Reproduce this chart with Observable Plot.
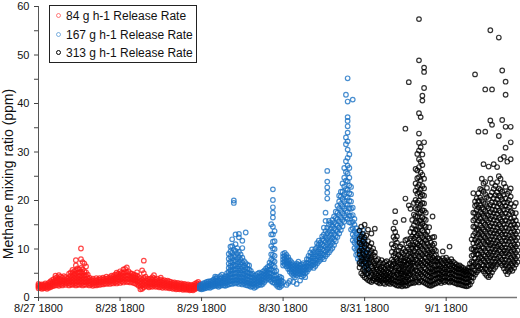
<!DOCTYPE html>
<html>
<head>
<meta charset="utf-8">
<script src="https://cdn.jsdelivr.net/npm/d3@7"></script>
<script src="https://cdn.jsdelivr.net/npm/@observablehq/plot@0.6"></script>
<style>
  body { margin: 0; background: #fff; font-family: "Liberation Sans", Arial, sans-serif; }
  #wrap { position: relative; width: 520px; height: 318px; }
  #legend { position: absolute; left: 49px; top: 5px; width: 146px; height: 56px; border: 1px solid #222; background: #fff; font-size: 12px; color: #111; }
  #legend div { position: absolute; left: 6px; white-space: nowrap; }
  #legend span.m { display: inline-block; width: 3px; height: 3px; border-radius: 50%; border: 1px solid; margin-right: 5px; vertical-align: middle; position: relative; top: -1px; }
  #ytitle { position: absolute; left: 8px; top: 174px; transform: translate(-50%, -50%) rotate(-90deg); font-size: 14px; white-space: nowrap; color: #111; }
</style>
</head>
<body>
<div id="wrap">
  <div id="chart"></div>
  <div id="ytitle">Methane mixing ratio (ppm)</div>
  <div id="legend"></div>
</div>
<script>
// hours since 8/27 18:00 -> methane values (ppm)
const seriesNames = ["84 g h-1 Release Rate", "167 g h-1 Release Rate", "313 g h-1 Release Rate"];
const seriesColors = ["#ff1a1a", "#1a72c4", "#000000"];
const xTickHours = [0, 24, 48, 72, 96, 120];
const xTickLabels = ["8/27 1800", "8/28 1800", "8/29 1800", "8/30 1800", "8/31 1800", "9/1 1800"];
const yTicks = [0, 5, 10, 15, 20, 25, 30, 35, 40, 45, 50, 55, 60];

const red = [
[0,[1.9,2.2,2.5,2.8]],[0.5,[2.0,2.3,2.6]],[1,[1.8,2.1,2.4,2.7]],[1.5,[1.9,2.2,2.6]],[2,[2.0,2.3,2.5,2.9]],[2.5,[1.8,2.1,2.4,2.7]],
[3,[2.0,2.3,2.6,3.0]],[3.5,[2.1,2.5,2.9,3.3]],[4,[2.3,2.7,3.1,3.6]],[4.5,[2.4,2.8,3.3,3.8]],[5,[2.5,3.0,3.5,4.0,4.5]],
[5.5,[2.6,3.1,3.6,4.2]],[6,[2.4,2.9,3.4,3.9,4.6]],[6.5,[2.7,3.2,3.7,4.3]],[7,[2.5,3.0,3.5,4.1]],[7.5,[2.8,3.3,3.8,4.4]],
[8,[2.6,3.1,3.6,4.2]],[8.5,[2.9,3.4,3.9]],[9,[2.5,3.0,3.6,4.2,4.9]],[9.5,[2.7,3.3,3.9,4.5,5.2]],[10,[2.6,3.1,3.7,4.3,5.0,5.7]],
[10.5,[2.8,3.4,4.0,4.7,5.4]],[11,[2.5,3.0,3.6,4.2,4.9,5.6,6.6,7.7]],[11.5,[2.7,3.3,3.9,4.5,5.2,6.0]],[12,[2.6,3.2,3.8,4.4,5.1,5.8]],
[12.5,[2.8,3.4,4.0,4.6,5.3,6.1,7.9,10.1]],[13,[2.5,3.1,3.7,4.3,5.0,5.8,7.3]],[13.5,[2.7,3.3,3.9,4.6,5.4,7.0]],
[14,[2.6,3.2,3.8,4.5,5.2,6.4]],[14.5,[2.8,3.4,4.0,4.7]],[15,[2.5,3.0,3.5,4.1]],[15.5,[2.7,3.2,3.7]],[16,[2.4,2.9,3.4,3.9]],
[16.5,[2.6,3.1,3.6]],[17,[2.5,3.0,3.5,4.0]],[17.5,[2.7,3.2,3.7]],[18,[2.6,3.1,3.6,4.0]],[18.5,[2.8,3.3,3.8]],[19,[2.7,3.2,3.7,4.1]],
[19.5,[2.9,3.4,3.9]],[20,[2.8,3.3,3.8,4.3]],[20.5,[3.0,3.5,4.0]],[21,[2.8,3.3,3.8,4.2]],[21.5,[3.0,3.5,4.0,4.5]],[22,[2.9,3.4,3.9,4.4]],
[22.5,[3.1,3.6,4.1,4.7]],[23,[2.9,3.4,4.0,4.6,5.1]],[23.5,[3.2,3.7,4.3,4.9]],[24,[3.0,3.6,4.2,4.8,5.4]],[24.5,[3.3,3.9,4.5,5.1]],
[25,[3.1,3.7,4.3,5.0,5.8]],[25.5,[3.4,4.0,4.6,5.3,5.9]],[26,[3.2,3.8,4.5,5.2,6.2]],[26.5,[3.3,3.9,4.6,5.4]],[27,[3.1,3.7,4.3,5.0]],
[27.5,[3.2,3.8,4.4,4.9]],[28,[3.0,3.6,4.2,4.7]],[28.5,[2.9,3.5,4.1,4.6]],[29,[2.7,3.3,3.9,4.5,5.2]],[29.5,[2.4,3.0,3.6,4.2]],
[30,[1.7,2.2,2.8,3.4,4.0]],[30.5,[1.8,2.4,3.0,3.7,5.6]],[31,[2.1,2.7,3.3,4.0,5.0,7.6]],[31.5,[2.4,3.0,3.6,4.3]],[32,[2.3,2.8,3.4,3.9]],
[32.5,[2.1,2.6,3.2,3.8]],[33,[2.3,2.8,3.3,3.9]],[33.5,[2.2,2.7,3.2,3.7,4.2]],[34,[2.4,2.9,3.4,4.0,4.6]],[34.5,[2.2,2.7,3.2,3.7]],
[35,[2.3,2.8,3.3,3.9]],[35.5,[2.1,2.6,3.1,3.6]],[36,[2.2,2.7,3.2,3.7,4.1]],[36.5,[2.0,2.5,3.0,3.5]],[37,[2.2,2.6,3.1,3.6]],
[37.5,[2.0,2.4,2.9,3.4]],[38,[2.1,2.5,3.0,3.5]],[38.5,[1.9,2.3,2.8,3.3]],[39,[2.0,2.4,2.8,3.2]],[39.5,[1.8,2.2,2.6,3.0]],
[40,[1.9,2.3,2.7,3.1]],[40.5,[1.7,2.1,2.5,2.9]],[41,[1.8,2.2,2.6,3.0]],[41.5,[1.7,2.0,2.4,2.8]],[42,[1.8,2.1,2.5,2.9]],
[42.5,[1.6,1.9,2.3,2.7]],[43,[1.7,2.0,2.4,2.8]],[43.5,[1.6,1.9,2.2,2.6]],[44,[1.7,2.0,2.3,2.7]],[44.5,[1.5,1.8,2.1,2.5]],
[45,[1.6,1.9,2.2,2.6]],[45.5,[1.5,1.8,2.2,2.5]],[46,[1.7,2.0,2.4,2.8]],[46.5,[1.9,2.2,2.6,3.0]],[47,[2.0,2.4,2.8,3.2]],[47.5,[1.9,2.3,2.7]]
];

const blue = [
[47.5,[1.8,2.1,2.5]],[48,[1.7,2.0,2.3,2.7]],[48.5,[1.8,2.1,2.5,2.9]],[49,[1.9,2.2,2.6,3.0]],[49.5,[2.0,2.4,2.8,3.2]],
[50,[2.1,2.5,2.9,3.3]],[50.5,[2.0,2.4,2.8,3.3]],[51,[2.2,2.6,3.0,3.4]],[51.5,[2.3,2.7,3.2,3.7]],[52,[2.5,2.9,3.4,3.9,4.3]],
[52.5,[2.4,2.8,3.3,3.8,4.2]],[53,[2.2,2.6,3.0,3.5]],[53.5,[2.4,2.9,3.4,3.9,4.4]],[54,[2.6,3.1,3.6,4.1,4.7]],[54.5,[2.5,3.0,3.5,4.0]],
[55,[2.4,2.9,3.4,3.9,4.4]],[55.5,[2.6,3.1,3.7,4.3,5.0]],[56,[2.7,3.3,3.9,4.6,5.3,6.1,7.0,8.0,9.0]],
[56.5,[2.9,3.5,4.2,4.9,5.7,6.5,7.4,8.4,9.5,10.5]],[57,[2.8,3.4,4.1,4.8,5.5,6.3,7.2,8.2,9.3,10.6,12.0]],
[57.5,[3.0,3.6,4.3,5.0,5.8,6.7,7.6,8.6,9.8,19.5,20.0]],[58,[2.9,3.5,4.2,4.9,5.7,6.5,7.4,8.4,9.6,11.0,13.0]],
[58.5,[3.1,3.7,4.4,5.2,6.0,6.9,7.9,9.0,10.2]],[59,[2.8,3.4,4.1,4.8,5.6,6.4,7.3,8.3,9.4,12.4,13.1]],
[59.5,[3.0,3.6,4.3,5.1,5.9,6.8,7.8,8.9]],[60,[2.7,3.3,4.0,4.7,5.5,6.3,7.2,8.2,10.2,11.7]],[60.5,[2.9,3.5,4.2,4.9,5.7,6.6,7.5]],
[61,[2.6,3.2,3.9,4.6,5.4,6.2,7.1,13.4]],[61.5,[2.5,3.0,3.7,4.4,5.1,5.9,6.7]],[62,[2.4,3.0,3.6,4.3,5.0,5.8,6.6]],
[62.5,[2.2,2.8,3.4,4.1,4.8,5.5]],[63,[2.3,2.9,3.5,4.2,4.9]],[63.5,[2.0,2.6,3.2,3.8,4.5]],[64,[2.2,2.8,3.4,4.0,4.6]],
[64.5,[2.5,3.0,3.6,4.2,4.9]],[65,[2.7,3.2,3.8,4.4,5.1]],[65.5,[2.6,3.1,3.7,4.3,4.9]],[66,[2.8,3.4,4.0,4.6,5.3]],
[66.5,[3.2,3.8,4.4,5.0,5.6]],[67,[3.6,4.2,4.8,5.4,6.0]],[67.5,[3.9,4.5,5.1,5.7,6.3]],[68,[3.7,4.3,5.0,5.7,6.5,7.2]],
[68.5,[3.4,4.1,4.9,5.8,6.8,7.8,8.9,10.6,13.0,15.1]],
[69,[3.1,3.8,4.6,5.5,6.5,7.6,8.8,10.1,11.5,13.0,14.6,16.5,17.5,18.6,20.1,22.3]],
[69.5,[3.0,3.6,4.4,5.3,6.3,7.4,8.6,10.0,11.6,13.7]],[70,[2.6,3.2,3.9,4.6,5.5]],[70.5,[2.2,2.7,3.3,3.9]],[71,[2.1,2.6,3.2,3.8,4.3]],
[71.5,[2.4,2.9,3.5,4.1]],[72,[3.2,6.6,7.2,7.8,8.4,9.0]],[72.5,[6.8,7.4,8.0,8.6,9.2]],[73,[2.6,6.4,7.0,7.6,8.2,8.8]],
[73.5,[3.0,5.9,6.5,7.1,7.7,8.3]],[74,[3.4,5.3,5.9,6.5,7.1,7.7]],[74.5,[4.9,5.5,6.1,6.7,7.3]],[75,[3.2,4.5,5.1,5.7,6.3,6.9]],
[75.5,[4.2,4.8,5.4,6.0,6.6]],[76,[2.8,4.6,5.2,5.8,6.4,7.0]],[76.5,[5.0,5.6,6.2,6.8,7.4]],[77,[3.5,4.8,5.4,6.0,6.6]],
[77.5,[4.3,4.9,5.5,6.1,6.8]],[78,[4.6,5.2,5.8,6.4,7.1]],[78.5,[4.2,5.0,5.6,6.2,6.9]],[79,[5.3,5.9,6.5,7.2,7.9]],
[79.5,[5.8,6.4,7.1,7.8,8.6]],[80,[6.2,6.9,7.6,8.4,9.3]],[80.5,[6.6,7.3,8.1,8.9,9.9]],[81,[6.1,6.8,7.6,8.4,9.4]],
[81.5,[6.5,7.2,8.0,8.9,10.0]],[82,[7.0,7.7,8.5,9.4,10.4,11.2]],[82.5,[7.4,8.2,9.0,9.9,10.9,11.7]],[83,[7.8,8.6,9.4,10.3,11.3]],
[83.5,[8.2,9.0,9.9,10.9,12.0,12.6]],[84,[7.9,8.8,9.7,10.7,11.8,13.0,14.4]],[84.5,[8.5,9.4,10.4,11.4,12.5,13.7,15.8,17.5]],
[85,[8.9,9.9,10.9,12.0,13.2,14.4,20.4,21.6,22.7,23.9,26.1]],[85.5,[9.3,10.3,11.4,12.5,13.7,15.0,15.8]],
[86,[9.8,10.8,11.9,13.0,14.2,15.4]],[86.5,[10.2,11.3,12.4,13.6,14.8,16.0]],[87,[10.8,11.9,13.0,14.2,15.4,16.7]],
[87.5,[11.6,12.7,13.9,15.1,16.4,17.7]],[88,[12.5,13.7,14.9,16.2,17.5,18.9]],[88.5,[13.2,14.4,15.7,17.0,18.4,19.8,21.0]],
[89,[13.9,15.2,16.5,17.9,19.3,20.8,21.8]],[89.5,[14.7,16.0,17.4,18.8,20.3,21.8,23.5]],
[90,[15.6,16.9,18.3,19.8,21.3,22.9,24.7,26.7]],[90.5,[16.5,17.9,19.3,20.8,22.4,24.1,25.9,28.1,31.6,33.0,41.8]],
[91,[16.2,17.6,19.1,20.6,22.2,23.9,25.6,27.2,28.8,30.5,32.2,34.0,35.3,36.4,37.2,40.4,45.2]],
[91.5,[15.5,16.9,18.4,19.9,21.5,23.1,24.7,26.7,29.5]],[92,[14.0,15.4,16.8,18.3,19.8,21.3,22.8]],
[92.5,[11.8,13.0,14.3,15.6,17.0,18.5,40.8]],[93,[10.2,11.3,12.5,13.7,15.0,16.2]],[93.5,[8.8,9.8,10.9,12.0,13.2,14.3]],
[94,[8.0,9.0,10.0,11.1,12.3,13.5]],[94.5,[7.4,8.4,9.4,10.5,11.6,12.7,13.7]],[95,[7.8,8.8,9.8,10.8,11.8,12.8]],
[95.5,[7.0,8.0,9.1,10.2,11.3,12.5,13.9]],[96,[6.4,7.4,8.5,9.6,10.7,11.8]],[96.5,[5.7,6.7,7.8,8.9,10.0]],[97,[5.0,6.0,7.0,8.1,9.2]]
];

const black = [
[94.5,[6.2,7.1,8.9,9.6,11.3,12.1,13.8]],[95,[5.0,6.8,7.5,8.3,10.1,11.0,12.6,14.6]],[95.5,[4.6,5.7,7.9,9.0,9.7,11.6,13.1]],
[96,[4.2,5.3,6.1,7.4,8.6,10.4,11.2,12.4,15.0]],[96.5,[3.9,4.8,6.4,7.0,8.1,9.3,10.9,12.8]],[97,[3.6,5.0,5.8,6.7,8.5,9.9,11.6,14.0]],
[97.5,[3.4,4.3,5.4,7.2,7.9,9.1,10.5]],[98,[3.2,4.6,5.1,6.4,7.7,8.3,9.6,11.2,13.2]],[98.5,[3.5,4.0,5.6,6.1,7.3,8.8,10.1]],
[99,[3.8,4.4,5.3,6.6,7.0,8.5,9.3,14.2]],[99.5,[3.3,4.1,4.9,5.8,6.3,7.6]],[100,[3.1,3.7,4.6,5.4,6.7,7.9]],[100.5,[2.9,3.5,4.3,5.1,6.0,7.2]],
[101,[3.4,4.0,4.8,5.7,6.4,7.7]],[101.5,[3.0,3.8,4.5,5.3,6.2,7.0]],[102,[2.8,3.6,4.4,5.0,5.9,7.3]],[102.5,[3.2,3.9,4.7,5.5,6.6,7.5]],
[103,[3.0,3.7,4.2,5.2,6.1,6.9]],[103.5,[2.8,3.4,4.4,4.9,5.8,7.1]],[104,[3.1,3.9,4.7,5.9,6.5,7.8,9.4,11.0]],
[104.5,[2.9,3.6,4.5,5.3,6.8,7.4,8.6,10.3,12.5,14.2]],[105,[2.7,3.4,4.2,5.6,6.2,7.0,8.3,9.1,10.7,12.0,13.5,15.5,17.8]],
[105.5,[2.5,3.3,4.7,5.1,6.4,7.5,8.0,9.6,11.3,12.6]],[106,[2.4,3.1,3.9,4.6,5.5,6.0,7.2,8.8,9.6]],
[106.5,[2.6,3.5,4.1,5.0,5.8,6.9,7.7,8.4,10.5]],[107,[2.3,3.0,3.8,4.9,5.4,6.4,7.0,8.2,9.3,11.0]],
[107.5,[2.6,3.4,4.3,4.8,5.9,6.7,7.6,8.9,10.0,16.0]],[108,[2.4,3.2,3.7,4.6,5.3,6.3,7.4,8.1,9.5,11.8,20.4,34.8]],
[108.5,[2.5,3.3,4.2,5.1,5.7,6.8,7.8,8.6,10.3,12.0]],[109,[2.8,3.6,4.5,5.0,6.1,7.0,7.6,9.0,9.9,11.2,19.0,44.4]],
[109.5,[2.9,3.9,4.8,5.6,6.6,7.3,8.4,9.4,10.8,12.2,13.5,18.3]],[110,[3.1,4.0,5.3,6.0,7.1,7.9,9.0,10.2,11.0,12.6,14.3,16.0]],
[110.5,[3.0,4.4,5.1,6.5,7.4,8.6,9.6,10.8,12.2,13.4,14.9,17.1,19.5]],
[111,[3.2,4.1,5.6,6.3,7.8,8.7,10.1,11.4,12.5,14.0,15.6,16.8,18.4,20.1,22.0,23.5,26.5]],
[111.5,[3.4,4.6,5.5,6.9,7.6,9.0,10.3,11.1,12.8,13.9,15.5,16.7,18.2,19.6,21.4,22.8,24.6,26.2,29.6]],
[112,[3.1,4.2,5.2,6.4,7.3,8.5,9.4,10.7,11.9,13.2,14.4,15.8,17.3,18.5,20.0,21.7,23.2,24.8,26.9,28.5,30.3,31.9,33.8,38.0,48.9,57.4]],
[112.5,[3.5,4.8,5.8,7.0,8.0,9.2,10.5,11.6,12.9,14.7,15.9,17.6,19.1,20.9,22.3,24.2,25.8,28.0,31.0,37.2]],
[113,[3.3,4.4,5.4,6.6,7.7,8.8,10.0,11.3,12.4,13.8,15.2,16.5,18.0,19.5,21.2,23.0,25.3,27.3,29.5,40.6,41.6]],
[113.5,[3.1,4.0,5.1,6.1,7.2,8.3,9.6,10.8,12.0,13.5,14.8,16.2,17.9,19.4,21.0,22.5,24.5,32.0,43.2,46.5,47.4]],
[114,[2.9,3.8,4.9,5.9,7.0,8.2,9.1,10.4,11.8,13.0,14.6,16.0,17.5]],[114.5,[2.7,3.6,4.6,5.5,6.7,7.5,8.8,9.8,11.1,12.5,13.6]],
[115,[2.5,3.4,4.4,5.2,6.3,7.2,8.4,9.3,10.6,12.2,14.5]],[115.5,[2.4,3.3,4.1,5.0,5.9,6.9,7.8,8.9,10.0,11.3]],
[116,[2.6,3.5,4.5,5.4,6.1,7.4,8.2,9.5,10.8,12.4,16.7]],[116.5,[2.8,3.7,4.7,5.7,6.6,7.7,8.6,9.9,11.1,12.5]],
[117,[2.9,3.9,4.6,5.8,6.5,7.6,8.8,9.6]],[117.5,[3.1,4.0,4.9,5.6,6.8,7.4,8.1]],[118,[3.3,4.2,5.0,5.9,6.7,7.9]],
[118.5,[3.0,3.8,4.7,5.5,6.4,7.6]],[119,[3.4,4.3,5.2,6.1,7.0,8.1,9.5]],[119.5,[3.2,4.1,4.9,5.8,6.6,7.7]],[120,[3.5,4.4,5.3,6.2,7.2,8.2]],
[120.5,[3.3,4.0,5.0,5.7,6.8,7.7]],[121,[3.1,3.9,4.8,5.6,6.5,7.4,10.5]],[121.5,[3.4,4.3,5.1,6.0,6.9,7.9]],[122,[3.2,4.0,4.9,5.7,6.6,7.4]],
[122.5,[3.0,3.8,4.6,5.5,6.3,7.1]],[123,[2.9,3.6,4.5,5.3,6.0,6.8]],[123.5,[2.7,3.5,4.3,5.1,5.8,6.5]],[124,[2.8,3.7,4.4,5.2,6.0,6.6]],
[124.5,[2.6,3.4,4.2,5.0,5.7,6.3]],[125,[2.5,3.3,4.0,4.8,5.5,6.1]],[125.5,[2.4,3.1,3.9,4.6,5.3,5.8]],[126,[2.3,3.0,3.8,4.5,5.1,5.6]],
[126.5,[2.4,3.2,4.0,4.8,5.5,6.1]],[127,[2.7,3.6,4.5,5.3,6.2,7.0]],[127.5,[3.3,4.2,5.1,6.3,7.4,8.6,10.0,12.0]],
[128,[4.1,5.0,6.4,7.3,8.8,9.9,11.2,12.8,14.6,15.9,17.5,21.5]],
[128.5,[4.7,5.6,6.9,8.1,9.5,10.4,11.9,13.3,14.5,16.2,17.4,18.9,19.8,46.0]],
[129,[5.2,6.3,7.4,8.9,9.8,11.3,12.5,13.9,15.1,16.6,18.0,19.2,20.5]],
[129.5,[5.6,6.5,7.9,9.0,10.5,11.6,13.0,14.1,15.8,17.0,18.6,19.9,21.5,34.2]],
[130,[6.0,7.2,8.3,9.7,10.9,12.3,13.5,14.9,16.3,17.6,19.0,20.6,22.4]],
[130.5,[5.8,6.8,8.1,9.3,10.4,11.9,13.1,14.4,15.7,17.3,18.5,20.1,22.2,24.5]],
[131,[5.4,6.6,7.7,8.8,10.2,11.5,12.7,14.0,15.4,16.8,18.2,19.7,21.8,23.5,27.5]],
[131.5,[4.9,6.0,7.3,8.5,9.6,11.0,12.3,13.6,15.0,16.4,17.8,19.3,21.3,23.8,34.2,42.9]],
[132,[4.5,5.7,6.7,8.0,9.3,10.6,11.7,13.1,14.5,15.9,17.2,18.8,20.7,22.6]],
[132.5,[4.2,5.3,6.5,7.6,8.9,10.1,11.4,12.7,14.1,15.5,16.9,18.4,20.3,27.0]],
[133,[4.6,5.8,6.9,8.2,9.4,10.8,12.0,13.4,14.7,16.2,17.6,19.1,21.0,24.5,36.5,55.1]],
[133.5,[5.2,6.4,7.5,8.7,10.0,11.2,12.6,13.9,15.3,16.7,18.1,19.6,21.7,23.6,35.6,42.9]],
[134,[5.8,6.9,8.1,9.4,10.6,11.9,13.2,14.6,16.0,17.4,18.9,20.5,22.4,27.5]],
[134.5,[6.3,7.4,8.7,9.9,11.2,12.5,13.8,15.2,16.6,18.0,19.6,21.1,23.0]],
[135,[6.8,8.0,9.2,10.5,11.7,13.1,14.4,15.8,17.2,18.7,20.2,21.7,23.8,26.9]],
[135.5,[7.3,8.4,9.7,10.9,12.3,13.6,15.0,16.4,17.9,19.4,21.0,22.5,25.0,33.3,53.6]],
[136,[7.0,8.2,9.5,10.7,12.0,13.4,14.7,16.1,17.6,19.1,20.7,22.2,24.5,28.5]],
[136.5,[6.6,7.8,9.1,10.3,11.6,13.0,14.3,15.7,17.2,18.7,20.2,21.8,36.6,46.8]],
[137,[6.0,7.2,8.5,9.7,11.0,12.4,13.7,15.1,16.6,18.1,19.6,21.2,23.5,29.0]],
[137.5,[5.4,6.6,7.8,9.1,10.3,11.7,13.0,14.4,15.9,17.4,18.9,20.4,22.8,30.9,35.2,41.8,44.5]],
[138,[4.8,5.9,7.1,8.4,9.6,11.0,12.3,13.7,15.2,16.6,18.1,19.6,21.4,28.0]],
[138.5,[5.3,6.4,7.6,8.9,10.1,11.5,12.8,14.2,15.6,17.1,18.6,20.1,21.8]],
[139,[5.8,7.0,8.2,9.5,10.7,12.1,13.4,14.8,16.3,17.8,19.3,20.8,22.5,28.5,32.0,35.2]],
[139.5,[5.5,6.6,7.8,9.0,10.3,11.6,12.9,14.3,15.7,17.5]],[140,[6.1,7.3,8.5,9.8,11.0,12.4,13.7,15.1,16.5,18.8]],
[140.5,[6.8,8.0,9.2,10.5,11.8,13.1,14.5,15.9,17.4,19.5]],[141,[7.3,8.5,9.7,11.0,12.3,13.6,15.0]]
];

function flatten(slots, s) {
  const out = [];
  for (const [h, vals] of slots) for (const v of vals) out.push({h, v, s});
  return out;
}
const rows = [
  ...flatten(red, seriesNames[0]),
  ...flatten(blue, seriesNames[1]),
  ...flatten(black, seriesNames[2])
];

const font = '"Liberation Sans", Arial, sans-serif';
const chart = Plot.plot({
  width: 520,
  height: 318,
  marginLeft: 38,
  marginRight: 3,
  marginTop: 6,
  marginBottom: 21,
  style: {fontFamily: font, fontSize: "11px", color: "#111", background: "#fff"},
  x: {domain: [0, 141], axis: null},
  y: {domain: [0, 60], axis: null},
  color: {domain: seriesNames, range: seriesColors},
  marks: [
    Plot.dot(rows, {x: "h", y: "v", stroke: "s", r: 2.3, strokeWidth: 1.2, fill: "none", strokeOpacity: 0.8}),
    Plot.ruleY([0], {stroke: "#777", strokeWidth: 1.3}),
    Plot.ruleX([0], {stroke: "#555", strokeWidth: 1}),
    Plot.axisX({ticks: xTickHours, tickFormat: (d, i) => xTickLabels[i], label: null, tickSize: 4, tickPadding: 3, fontSize: 11, stroke: "#444"}),
    Plot.axisY({ticks: yTicks, tickFormat: d => (d % 10 === 0 ? d : ""), label: null, tickSize: 4, tickPadding: 5, fontSize: 11, stroke: "#444"})
  ]
});
document.getElementById("chart").appendChild(chart);

const legend = document.getElementById("legend");
seriesNames.forEach((name, i) => {
  const row = document.createElement("div");
  row.style.top = (3 + i * 18.5) + "px";
  const m = document.createElement("span");
  m.className = "m";
  m.style.borderColor = seriesColors[i];
  m.style.opacity = i < 2 ? 0.55 : 1;
  row.appendChild(m);
  row.appendChild(document.createTextNode(name));
  legend.appendChild(row);
});
</script>
</body>
</html>
